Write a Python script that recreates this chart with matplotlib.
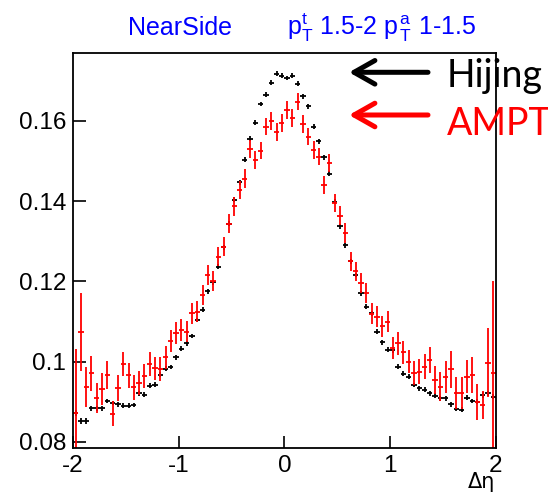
import numpy as np
import matplotlib
matplotlib.use("Agg")
import matplotlib.pyplot as plt

# Delta-eta bin centres: 80 bins of width 0.05 between -2 and 2
bin_lo = -2.0
bin_w = 0.05

hijing = [
    0.0873, 0.0852, 0.0852, 0.0884, 0.0884, 0.0884, 0.0902, 0.0897, 0.0894, 0.0890,
    0.0890, 0.0892, 0.0921, 0.0918, 0.0940, 0.0943, 0.0968, 0.0983, 0.0987, 0.1011,
    0.1032, 0.1046, 0.1064, 0.1104, 0.1130, 0.1175, 0.1198, 0.1237, 0.1285, 0.1344,
    0.1404, 0.1447, 0.1503, 0.1556, 0.1596, 0.1642, 0.1665, 0.1695, 0.1718, 0.1713,
    0.1707, 0.1713, 0.1693, 0.1661, 0.1636, 0.1586, 0.1549, 0.1509, 0.1468, 0.1399,
    0.1337, 0.1290, 0.1250, 0.1216, 0.1171, 0.1137, 0.1121, 0.1075, 0.1048, 0.1030,
    0.1028, 0.0988, 0.0970, 0.0963, 0.0942, 0.0934, 0.0930, 0.0921, 0.0915, 0.0909,
    0.0909, 0.0894, 0.0882, 0.0880, 0.0910, 0.0902, 0.0900, 0.0917, 0.0921, 0.0913,
]
hijing_err = [
    0.0007, 0.0007, 0.0007, 0.0006, 0.0006, 0.0006, 0.0006, 0.0006, 0.0006, 0.0006,
    0.0006, 0.0006, 0.0006, 0.0006, 0.0006, 0.0006, 0.0006, 0.0006, 0.0006, 0.0006,
    0.0006, 0.0006, 0.0006, 0.0006, 0.0006, 0.0006, 0.0006, 0.0006, 0.0006, 0.0006,
    0.0006, 0.0006, 0.0006, 0.0006, 0.0006, 0.0006, 0.0006, 0.0006, 0.0006, 0.0006,
    0.0006, 0.0006, 0.0006, 0.0006, 0.0006, 0.0006, 0.0006, 0.0006, 0.0006, 0.0006,
    0.0006, 0.0006, 0.0006, 0.0006, 0.0006, 0.0006, 0.0006, 0.0006, 0.0006, 0.0006,
    0.0006, 0.0006, 0.0006, 0.0006, 0.0006, 0.0006, 0.0006, 0.0006, 0.0006, 0.0006,
    0.0006, 0.0006, 0.0006, 0.0006, 0.0006, 0.0006, 0.0006, 0.0007, 0.0007, 0.0007,
]

ampt = [
    0.0872, 0.1074, 0.0936, 0.0971, 0.0909, 0.0931, 0.0967, 0.0870, 0.0935, 0.0995,
    0.0966, 0.0936, 0.0948, 0.0965, 0.0994, 0.0984, 0.0982, 0.1011, 0.1052, 0.1071,
    0.1079, 0.1075, 0.1121, 0.1125, 0.1167, 0.1216, 0.1200, 0.1262, 0.1287, 0.1344,
    0.1387, 0.1428, 0.1456, 0.1530, 0.1503, 0.1526, 0.1586, 0.1599, 0.1572, 0.1594,
    0.1628, 0.1607, 0.1648, 0.1593, 0.1561, 0.1528, 0.1511, 0.1440, 0.1495, 0.1395,
    0.1364, 0.1321, 0.1250, 0.1225, 0.1196, 0.1171, 0.1120, 0.1112, 0.1088, 0.1100,
    0.1034, 0.1046, 0.1023, 0.1000, 0.0971, 0.0975, 0.0988, 0.1004, 0.0955, 0.0938,
    0.0963, 0.0981, 0.0923, 0.0923, 0.0963, 0.0967, 0.0900, 0.0892, 0.0998, 0.0971,
]
ampt_err = [
    0.0160, 0.0096, 0.0050, 0.0044, 0.0038, 0.0040, 0.0034, 0.0031, 0.0033, 0.0030,
    0.0032, 0.0032, 0.0030, 0.0030, 0.0030, 0.0029, 0.0029, 0.0028, 0.0028, 0.0027,
    0.0027, 0.0027, 0.0026, 0.0026, 0.0025, 0.0025, 0.0025, 0.0024, 0.0024, 0.0024,
    0.0023, 0.0023, 0.0023, 0.0023, 0.0022, 0.0022, 0.0022, 0.0022, 0.0022, 0.0022,
    0.0022, 0.0022, 0.0022, 0.0022, 0.0022, 0.0022, 0.0022, 0.0023, 0.0023, 0.0023,
    0.0023, 0.0024, 0.0024, 0.0024, 0.0025, 0.0025, 0.0026, 0.0026, 0.0027, 0.0027,
    0.0027, 0.0028, 0.0028, 0.0029, 0.0030, 0.0031, 0.0032, 0.0033, 0.0035, 0.0036,
    0.0040, 0.0046, 0.0040, 0.0040, 0.0042, 0.0045, 0.0045, 0.0035, 0.0085, 0.0229,
]

x_ticks = [-2, -1, 0, 1, 2]
x_labels = ['-2', '-1', '0', '1', '2']
y_ticks = [0.08, 0.10, 0.12, 0.14, 0.16]
y_labels = ['0.08', '0.1', '0.12', '0.14', '0.16']

centers = bin_lo + bin_w * (np.arange(len(hijing)) + 0.5)

fig = plt.figure(figsize=(5.48, 4.92), dpi=100)
ax = fig.add_axes([0.1332, 0.0894, 0.7718, 0.8035])

ax.errorbar(centers, hijing, yerr=hijing_err, xerr=bin_w / 2, fmt='none',
            ecolor='black', elinewidth=1.3, capsize=0)
ax.errorbar(centers, ampt, yerr=ampt_err, xerr=bin_w / 2, fmt='none',
            ecolor='red', elinewidth=1.3, capsize=0)

ax.set_xlim(-2, 2)
ax.set_ylim(0.0785, 0.177)
ax.set_xticks(x_ticks)
ax.set_xticklabels(x_labels)
ax.set_yticks(y_ticks)
ax.set_yticklabels(y_labels)
ax.tick_params(direction='in', length=9, width=1.2, labelsize=17.5, pad=5)
ax.tick_params(axis='x', pad=5)
for lab in ax.get_xticklabels() + ax.get_yticklabels():
    lab.set_family('Liberation Sans')
for sp in ax.spines.values():
    sp.set_linewidth(1.3)

# x title sits just under the "2" label, as in the original
fig.text(495 / 548, 1 - 488 / 492, 'Δη', fontsize=15, family='DejaVu Sans',
         ha='right', va='baseline')

# blue header
fig.text(128 / 548, 1 - 35 / 492, 'NearSide', color='blue', fontsize=18,
         family='Liberation Sans', va='baseline')
plt.rcParams['mathtext.fontset'] = 'custom'
plt.rcParams['mathtext.rm'] = 'Liberation Sans'
plt.rcParams['mathtext.it'] = 'Liberation Sans'
fig.text(287 / 548, 1 - 35 / 492,
         r'p$_{\rm T}^{\rm t}$ 1.5-2 p$^{\,\rm a}_{\,\rm T}$ 1-1.5',
         color='blue', fontsize=18, family='Liberation Sans', va='baseline')

# arrows + model labels
arrow_y = [492 - 72.3, 492 - 115]
names = ['Hijing', 'AMPT']
colors = ['black', 'red']
text_y = [492 - 86.7, 492 - 135]
for ay, name, col, ty in zip(arrow_y, names, colors, text_y):
    ax.annotate('', xy=(349, ay), xycoords='figure pixels',
                xytext=(428, ay), textcoords='figure pixels',
                arrowprops=dict(arrowstyle='->,head_length=1.5,head_width=0.85',
                                lw=3.6, color=col, shrinkA=0, shrinkB=0),
                annotation_clip=False)
    fig.text(447 / 548, ty / 492, name, color=col, fontsize=27,
             family='Lato', va='baseline')

fig.savefig('out.png', dpi=100)
